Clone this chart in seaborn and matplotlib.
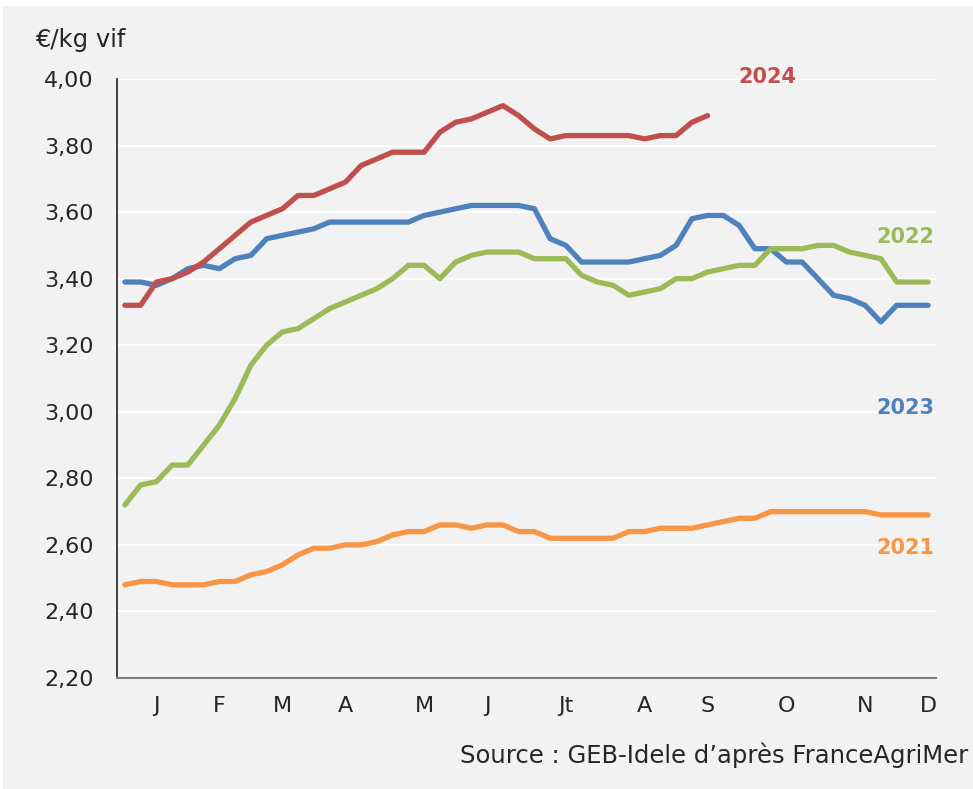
import numpy as np
import pandas as pd
import matplotlib
matplotlib.use('Agg')
import matplotlib.pyplot as plt
from matplotlib.patches import Rectangle
import seaborn as sns

# weekly live-weight prices, EUR/kg
prix_2021 = [2.48, 2.49, 2.49, 2.48, 2.48, 2.48, 2.49, 2.49, 2.51, 2.52,
             2.54, 2.57, 2.59, 2.59, 2.60, 2.60, 2.61, 2.63, 2.64, 2.64,
             2.66, 2.66, 2.65, 2.66, 2.66, 2.64, 2.64, 2.62, 2.62, 2.62,
             2.62, 2.62, 2.64, 2.64, 2.65, 2.65, 2.65, 2.66, 2.67, 2.68,
             2.68, 2.70, 2.70, 2.70, 2.70, 2.70, 2.70, 2.70, 2.69, 2.69,
             2.69, 2.69]
prix_2022 = [2.72, 2.78, 2.79, 2.84, 2.84, 2.90, 2.96, 3.04, 3.14, 3.20,
             3.24, 3.25, 3.28, 3.31, 3.33, 3.35, 3.37, 3.40, 3.44, 3.44,
             3.40, 3.45, 3.47, 3.48, 3.48, 3.48, 3.46, 3.46, 3.46, 3.41,
             3.39, 3.38, 3.35, 3.36, 3.37, 3.40, 3.40, 3.42, 3.43, 3.44,
             3.44, 3.49, 3.49, 3.49, 3.50, 3.50, 3.48, 3.47, 3.46, 3.39,
             3.39, 3.39]
prix_2023 = [3.39, 3.39, 3.38, 3.40, 3.43, 3.44, 3.43, 3.46, 3.47, 3.52,
             3.53, 3.54, 3.55, 3.57, 3.57, 3.57, 3.57, 3.57, 3.57, 3.59,
             3.60, 3.61, 3.62, 3.62, 3.62, 3.62, 3.61, 3.52, 3.50, 3.45,
             3.45, 3.45, 3.45, 3.46, 3.47, 3.50, 3.58, 3.59, 3.59, 3.56,
             3.49, 3.49, 3.45, 3.45, 3.40, 3.35, 3.34, 3.32, 3.27, 3.32,
             3.32, 3.32]
prix_2024 = [3.32, 3.32, 3.39, 3.40, 3.42, 3.45, 3.49, 3.53, 3.57, 3.59,
             3.61, 3.65, 3.65, 3.67, 3.69, 3.74, 3.76, 3.78, 3.78, 3.78,
             3.84, 3.87, 3.88, 3.90, 3.92, 3.89, 3.85, 3.82, 3.83, 3.83,
             3.83, 3.83, 3.83, 3.82, 3.83, 3.83, 3.87, 3.89]

mois = ['J', 'F', 'M', 'A', 'M', 'J', 'Jt', 'A', 'S', 'O', 'N', 'D']
semaine_mois = [2, 6, 10, 14, 19, 23, 28, 33, 37, 42, 47, 51]
y_ticks = [2.20, 2.40, 2.60, 2.80, 3.00, 3.20, 3.40, 3.60, 3.80, 4.00]

couleurs = {'2021': '#F79646', '2022': '#9BBB59', '2023': '#4F81BD', '2024': '#C0504D'}

frames = []
for annee, vals in [('2021', prix_2021), ('2022', prix_2022),
                    ('2023', prix_2023), ('2024', prix_2024)]:
    frames.append(pd.DataFrame({'semaine': np.arange(len(vals)), 'prix': vals, 'annee': annee}))
df = pd.concat(frames, ignore_index=True)

sns.set_style('white')
plt.rcParams['font.family'] = ['DejaVu Sans']

fig = plt.figure(figsize=(9.73, 7.89), dpi=100, facecolor='#F2F2F2')
# thin white margin along the top and left edges
fig.patches.append(Rectangle((0, 1 - 6 / 789), 1, 6 / 789, transform=fig.transFigure,
                             facecolor='white', edgecolor='none', zorder=-10))
fig.patches.append(Rectangle((0, 0), 3 / 973, 1, transform=fig.transFigure,
                             facecolor='white', edgecolor='none', zorder=-10))
ax = fig.add_axes([117 / 973, 1 - 678 / 789, (936 - 117) / 973, (678 - 79) / 789])
ax.set_facecolor('#F2F2F2')

sns.lineplot(data=df, x='semaine', y='prix', hue='annee',
             hue_order=['2023', '2022', '2021', '2024'], palette=couleurs,
             linewidth=3.8, legend=False, ax=ax, solid_capstyle='round')

ax.set_xlim(-0.5, 51.5)
ax.set_ylim(2.2, 4.0)
ax.set_yticks(y_ticks)
ax.set_yticklabels([f'{v:.2f}'.replace('.', ',') for v in y_ticks])
ax.yaxis.grid(True, color='white', linewidth=1.5)
ax.set_axisbelow(True)

ax.set_xticks([-0.5 + 4.5 * k for k in range(12)])
ax.set_xticklabels([])
ax.set_xticks(semaine_mois, minor=True)
ax.set_xticklabels(mois, minor=True)
ax.tick_params(axis='x', which='major', direction='out', length=6, width=1.2, color='#595959')
ax.tick_params(axis='x', which='minor', length=0, pad=13, labelsize=16, labelcolor='#262626')
ax.tick_params(axis='y', direction='out', length=6, width=1.2, color='#595959',
               pad=11, labelsize=16, labelcolor='#262626')
ax.set_xlabel('')
ax.set_ylabel('')

for s in ['top', 'right']:
    ax.spines[s].set_visible(False)
ax.spines['left'].set_color('#262626')
ax.spines['left'].set_linewidth(1.2)
ax.spines['bottom'].set_color('#7F7F7F')
ax.spines['bottom'].set_linewidth(1.5)

etiquettes = [('2024', 40.8, 4.005, 'center'), ('2022', 51.4, 3.525, 'right'),
              ('2023', 51.4, 3.012, 'right'), ('2021', 51.4, 2.592, 'right')]
for annee, x, y, ha in etiquettes:
    ax.text(x, y, annee, color=couleurs[annee], fontsize=15, fontweight='bold',
            ha=ha, va='center', clip_on=False)

fig.text(35 / 973, 1 - 40 / 789, '€/kg vif', fontsize=17.5, color='#262626', ha='left', va='center')
fig.text(968 / 973, 1 - 755 / 789, 'Source : GEB-Idele d’après FranceAgriMer',
         fontsize=17.5, color='#262626', ha='right', va='center')

fig.savefig('out.png', dpi=100, facecolor=fig.get_facecolor())
